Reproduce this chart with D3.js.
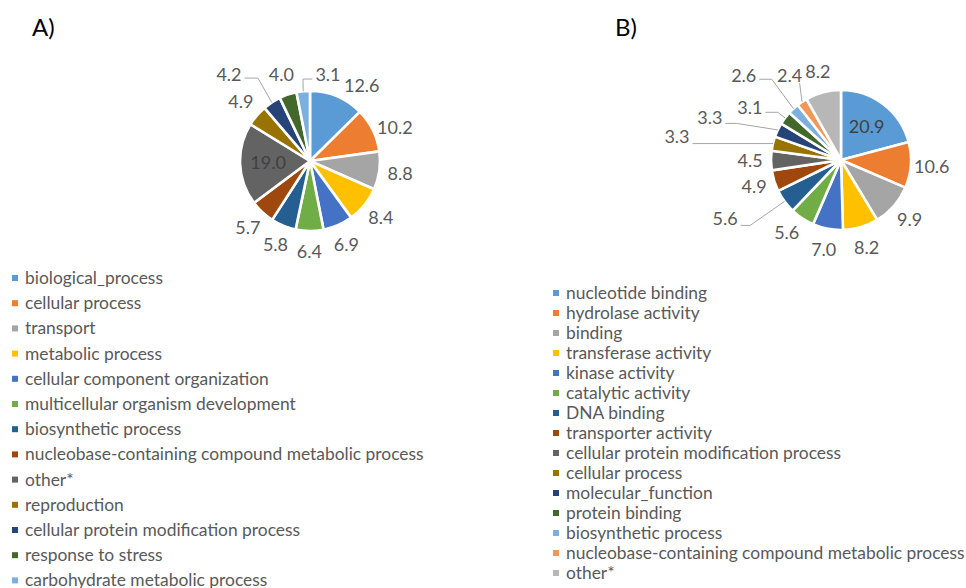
<!DOCTYPE html>
<html>
<head>
<meta charset="utf-8">
<script src="https://cdn.jsdelivr.net/npm/d3@7"></script>
<style>
  html, body { margin: 0; padding: 0; background: #fff; }
  svg { display: block; font-family: Lato, "Open Sans", sans-serif; }
</style>
</head>
<body>
<svg id="chart" width="966" height="588"></svg>
<script>
// Panel A: biological process categories (%)
const categoriesA = [
  "biological_process", "cellular process", "transport", "metabolic process",
  "cellular component organization", "multicellular organism development",
  "biosynthetic process", "nucleobase-containing compound metabolic process",
  "other*", "reproduction", "cellular protein modification process",
  "response to stress", "carbohydrate metabolic process"
];
const valuesA = [12.6, 10.2, 8.8, 8.4, 6.9, 6.4, 5.8, 5.7, 19.0, 4.9, 4.2, 4.0, 3.1];

// Panel B: molecular function categories (%)
const categoriesB = [
  "nucleotide binding", "hydrolase activity", "binding", "transferase activity",
  "kinase activity", "catalytic activity", "DNA binding", "transporter activity",
  "cellular protein modification process", "cellular process", "molecular_function",
  "protein binding", "biosynthetic process",
  "nucleobase-containing compound metabolic process", "other*"
];
const valuesB = [20.9, 10.6, 9.9, 8.2, 7.0, 5.6, 5.6, 4.9, 4.5, 3.3, 3.3, 3.1, 2.6, 2.4, 8.2];

const palette = [
  "#5B9BD5", "#ED7D31", "#A5A5A5", "#FFC000", "#4472C4", "#70AD47", "#255E91",
  "#9E480E", "#636363", "#997300", "#264478", "#43682B", "#7CAFDD", "#F1975A", "#B7B7B7"
];

const svg = d3.select("#chart");
const labelSize = 18;
const legendSize = 17.4;

// Panel layout: pie position, label placement rules, legend placement.
const panels = [
  {
    title: "A)", titleX: 32, cats: categoriesA, vals: valuesA,
    cx: 310, cy: 161, r: 70,
    inside: [8],
    nudge: { 0: 12, 1: 5 },
    leaders: {
      10: { label: [-42.8, -27.3], elbow: [-13.8, -24.3] },
      12: { label: [24.8, -16.3], elbow: [-0.2, -12.3] }
    },
    legendX: 12, legendY: 278, legendStep: 25.2
  },
  {
    title: "B)", titleX: 615, cats: categoriesB, vals: valuesB,
    cx: 841, cy: 160, r: 70,
    inside: [0],
    nudge: { 5: 3 },
    leaders: {
      6:  { label: [-59.4, 17],   elbow: [-34.4, 24] },
      9:  { label: [-96, -7.3],   elbow: [-3, 0] },
      10: { label: [-68, -12.5],  elbow: [-41, -6.5] },
      11: { label: [-35.3, -10.6], elbow: [-7.3, -5.6] },
      12: { label: [-49.7, -33.4], elbow: [-21.7, -29.4] },
      13: { label: [-12.4, -26.6], elbow: [-2.4, -18.6], vertical: true }
    },
    legendX: 553, legendY: 293, legendStep: 20
  }
];

const color = d3.scaleOrdinal().range(palette);
const fmt = d3.format(".1f");

panels.forEach(p => {
  color.domain(d3.range(p.vals.length));

  svg.append("text")
    .attr("x", p.titleX).attr("y", 28)
    .attr("dy", "0.35em")
    .attr("font-size", 24).attr("fill", "#000")
    .text(p.title);

  const pie = d3.pie().sort(null).value(d => d);
  const arcs = pie(p.vals);
  const arc = d3.arc().innerRadius(0).outerRadius(p.r);

  const g = svg.append("g").attr("transform", `translate(${p.cx},${p.cy})`);

  g.selectAll("path.slice")
    .data(arcs)
    .join("path")
    .attr("class", "slice")
    .attr("d", arc)
    .attr("fill", (d, i) => color(i))
    .attr("stroke", "#fff")
    .attr("stroke-width", 2.6)
    .attr("stroke-linejoin", "round");

  const polar = (a, rad) => [Math.sin(a) * rad, -Math.cos(a) * rad];

  arcs.forEach((d, i) => {
    const mid = (d.startAngle + d.endAngle) / 2;
    const txt = fmt(d.data);
    if (p.inside.includes(i)) {
      const [x, y] = polar(mid, p.r * 0.6);
      g.append("text")
        .attr("x", x).attr("y", y).attr("dy", "0.35em")
        .attr("text-anchor", "middle")
        .attr("font-size", labelSize).attr("fill", "#404040")
        .text(txt);
      return;
    }
    const lead = p.leaders[i];
    if (lead) {
      const [ex, ey] = polar(mid, p.r);
      const lx = ex + lead.label[0], ly = ey + lead.label[1];
      const t = g.append("text")
        .attr("x", lx).attr("y", ly).attr("dy", "0.35em")
        .attr("text-anchor", "middle")
        .attr("font-size", labelSize).attr("fill", "#595959")
        .text(txt);
      const half = t.node().getComputedTextLength() / 2;
      const bx = ex + lead.elbow[0], by = ey + lead.elbow[1];
      const pts = [[ex, ey], [bx, by]];
      if (!lead.vertical) {
        const side = lx < bx ? lx + half + 3 : lx - half - 3;
        pts.push([side, by]);
      }
      g.append("path")
        .attr("d", d3.line()(pts))
        .attr("fill", "none")
        .attr("stroke", "#A6A6A6")
        .attr("stroke-width", 1);
      return;
    }
    const a = mid + ((p.nudge[i] || 0) * Math.PI / 180);
    const [x, y] = polar(a, p.r + 21);
    g.append("text")
      .attr("x", x).attr("y", y).attr("dy", "0.35em")
      .attr("text-anchor", "middle")
      .attr("font-size", labelSize).attr("fill", "#595959")
      .text(txt);
  });

  // Legend
  const lg = svg.append("g");
  const rows = lg.selectAll("g.row")
    .data(p.cats)
    .join("g")
    .attr("class", "row")
    .attr("transform", (d, i) => `translate(${p.legendX},${p.legendY + i * p.legendStep})`);
  rows.append("rect")
    .attr("x", 0).attr("y", -3).attr("width", 6).attr("height", 6)
    .attr("fill", (d, i) => color(i));
  rows.append("text")
    .attr("x", 13).attr("y", 0).attr("dy", "0.35em")
    .attr("font-size", legendSize).attr("fill", "#595959")
    .text(d => d);
});
</script>
</body>
</html>
